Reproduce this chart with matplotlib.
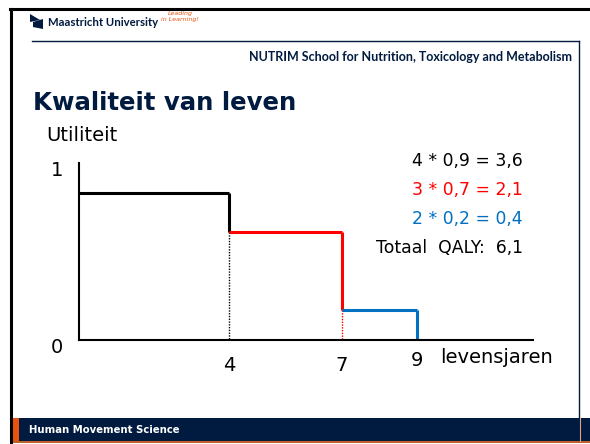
import matplotlib
matplotlib.use("Agg")
import matplotlib.pyplot as plt
from matplotlib.patches import Rectangle, Polygon

# chart data
year_edges = [0, 4, 7, 9]
utilities = [0.83, 0.61, 0.17]          # drawn heights of the steps
seg_colors = ["black", "#ff0000", "#0070c0"]
year_ticks = [4, 7, 9]
eq_lines = ["4 * 0,9 = 3,6", "3 * 0,7 = 2,1", "2 * 0,2 = 0,4", "Totaal  QALY:  6,1"]
eq_colors = ["black", "#ff0000", "#0070c0", "black"]

navy = "#001b3f"
orange = "#e8540f"

W, H = 590, 444
fig = plt.figure(figsize=(W / 100, H / 100), dpi=100)

# slide decoration in pixel coordinates
bg = fig.add_axes([0, 0, 1, 1])
bg.set_xlim(0, W)
bg.set_ylim(H, 0)
bg.axis("off")

bg.plot([10, W], [9.5, 9.5], color="black", lw=2.2)
bg.plot([10.5, 10.5], [9, H], color="black", lw=2.2)
bg.plot([32, 579], [41.5, 41.5], color=navy, lw=1)
bg.plot([579, 579], [41.5, 418], color=navy, lw=1)

bg.add_patch(Rectangle((12, 418), W - 12, 23, color=navy, lw=0))
bg.add_patch(Rectangle((12, 418), 7, 24, color=orange, lw=0))
bg.add_patch(Rectangle((12, 441), W - 12, 1.5, color="#c0602a", lw=0))
bg.plot([579.5, 579.5], [418, 441], color="#e8a080", lw=0.8)
bg.text(29, 430, "Human Movement Science", color="white", fontsize=7.3,
        fontweight="bold", va="center", ha="left")

# logo
bg.add_patch(Polygon([[30, 14], [30, 22], [40, 20]], closed=True, color=navy, lw=0))
bg.add_patch(Polygon([[33, 22], [43, 19], [43, 29], [33, 27]], closed=True, color=navy, lw=0))
bg.text(48, 22, "Maastricht University", color=navy, fontsize=8.2,
        fontweight="bold", va="center", ha="left", family="Lato")
bg.text(168, 13, "Leading", color=orange, fontsize=4.5, style="italic",
        va="center", ha="left")
bg.text(161, 20, "in Learning!", color=orange, fontsize=4.5, style="italic",
        va="center", ha="left")

bg.text(572, 57, "NUTRIM School for Nutrition, Toxicology and Metabolism",
        color=navy, fontsize=9, fontweight="bold", va="center", ha="right",
        family="Lato")

bg.text(33, 103, "Kwaliteit van leven", color=navy, fontsize=17.6,
        fontweight="bold", va="center", ha="left")
bg.text(46, 135, "Utiliteit", color="black", fontsize=14, va="center", ha="left")

for i, (line, col) in enumerate(zip(eq_lines, eq_colors)):
    bg.text(523, 161 + 29 * i, line, color=col, fontsize=12.4, va="center", ha="right")

# the chart itself
x0, y0, x1, y1 = 79, 340, 533, 163
ax = fig.add_axes([x0 / W, (H - y0) / H, (x1 - x0) / W, (y0 - y1) / H])
ax.patch.set_alpha(0)
px_per_year = (417 - 79) / 9
ax.set_xlim(0, (x1 - x0) / px_per_year)
ax.set_ylim(0, 1)
for s in ["top", "right"]:
    ax.spines[s].set_visible(False)
for s in ["left", "bottom"]:
    ax.spines[s].set_linewidth(1.5)
ax.set_xticks([])
ax.set_yticks([])

for i, u in enumerate(utilities):
    xa, xb = year_edges[i], year_edges[i + 1]
    ax.plot([xa, xb], [u, u], color=seg_colors[i], lw=2.2, solid_capstyle="butt")
    nxt = utilities[i + 1] if i + 1 < len(utilities) else 0
    ax.plot([xb, xb], [u, nxt], color=seg_colors[i], lw=2.2, solid_capstyle="butt")
    if nxt > 0:
        ax.plot([xb, xb], [nxt, 0], color=seg_colors[i], lw=1, ls=(0, (1, 1)))

ax.annotate("1", (0, 1), xytext=(-22, -7), textcoords="offset pixels",
            ha="center", va="center", fontsize=14, annotation_clip=False)
ax.annotate("0", (0, 0), xytext=(-22, -7), textcoords="offset pixels",
            ha="center", va="center", fontsize=14, annotation_clip=False)
for t in year_ticks:
    dy = -20 if t == year_ticks[-1] else -25
    ax.annotate(str(t), (t, 0), xytext=(0, dy), textcoords="offset pixels",
                ha="center", va="center", fontsize=14, annotation_clip=False)
ax.annotate("levensjaren", (year_ticks[-1], 0), xytext=(23, -17),
            textcoords="offset pixels", ha="left", va="center", fontsize=14,
            annotation_clip=False)

fig.savefig("out.png", dpi=100)
